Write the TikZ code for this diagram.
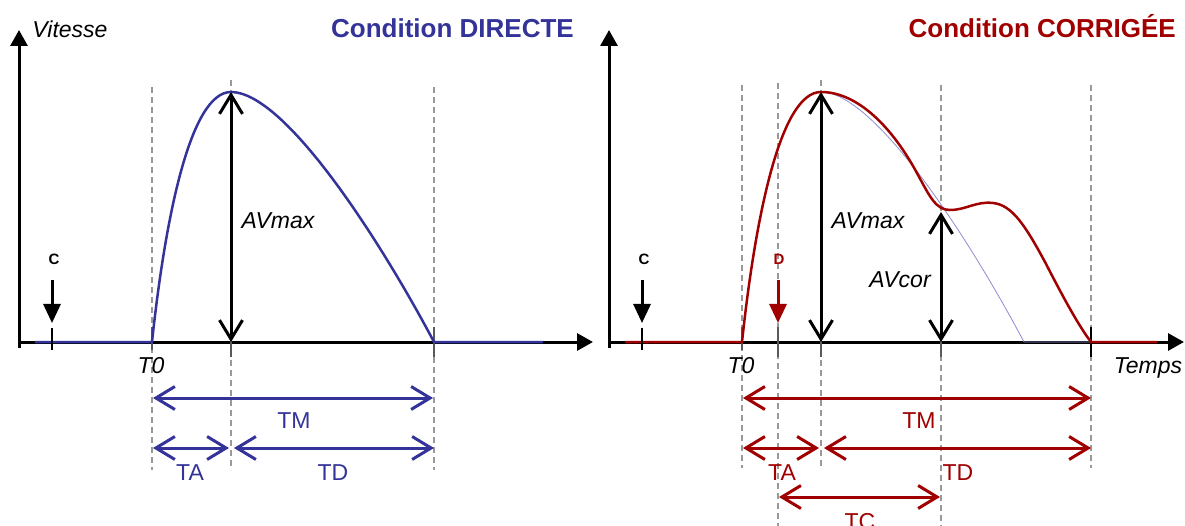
\documentclass[tikz,border=0pt]{standalone}
\usepackage{fontspec}
\setmainfont{Liberation Sans}
\usetikzlibrary{arrows.meta}
\definecolor{dblue}{RGB}{51,51,153}
\definecolor{dred}{RGB}{160,0,0}
\definecolor{thinblue}{RGB}{140,140,210}
\begin{document}
\begin{tikzpicture}[x=1pt,y=-1pt,
  axis/.style={line width=3pt,-{Triangle[length=16pt,width=17pt]}},
  guide/.style={black!40,line width=1.1pt,dash pattern=on 6pt off 4pt},
  tickmark/.style={black!65,line width=2.4pt},
  ctick/.style={black,line width=2.4pt},
  dbl/.style={line width=3pt,{Straight Barb[length=19pt,width=23pt]}-{Straight Barb[length=19pt,width=23pt]}},
  marker/.style={line width=3pt,-{Triangle[length=19pt,width=17pt]}},
  curve/.style={line width=2.5pt},
  lab/.style={inner sep=0pt,anchor=base,font=\fontsize{23}{27}\selectfont\itshape},
  dur/.style={inner sep=0pt,anchor=base,font=\fontsize{23}{27}\selectfont},
  mk/.style={inner sep=0pt,anchor=base,font=\fontsize{15}{18}\selectfont\bfseries},
  ttl/.style={inner sep=0pt,anchor=base east,font=\fontsize{26}{30}\selectfont\bfseries}
]
\useasboundingbox (0,0) rectangle (1185,526);

% ================= LEFT PANEL =================
% guides
\coordinate (LgA1) at (152,87);  \coordinate (LgA2) at (152,470);
\coordinate (LgB1) at (231,80);  \coordinate (LgB2) at (231,470);
\coordinate (LgC1) at (434,87);  \coordinate (LgC2) at (434,470);
\draw[guide] (LgA1) -- (LgA2);
\draw[guide] (LgB1) -- (LgB2);
\draw[guide] (LgC1) -- (LgC2);
% axes
\coordinate (Lo) at (19,348); \coordinate (Ly) at (19,30);
\coordinate (Lx0) at (19,342); \coordinate (Lx) at (593,342);
\draw[axis] (Lo) -- (Ly);
\draw[axis] (Lx0) -- (Lx);
% ticks
\coordinate (LtA1) at (152,327); \coordinate (LtA2) at (152,350);
\coordinate (LtB1) at (231,330); \coordinate (LtB2) at (231,357);
\coordinate (LtC1) at (434,327); \coordinate (LtC2) at (434,357);
\draw[tickmark] (LtA1) -- (LtA2);
\draw[tickmark] (LtB1) -- (LtB2);
\draw[tickmark] (LtC1) -- (LtC2);
% curve
\coordinate (Lb0) at (35,342); \coordinate (LT0) at (152,342);
\coordinate (LP) at (231,92);  \coordinate (LE) at (434,342);
\coordinate (Lb1) at (543,342); \coordinate (LPb) at (231,342);
\draw[dblue,curve] (Lb0) -- (LT0) .. controls (165,220) and (190,92) .. (LP)
   .. controls (285,92) and (380,240) .. (LE) -- (Lb1);
% C marker
\node[mk] (LC) at (54,265) {C};
\coordinate (LCa1) at (52,280); \coordinate (LCa2) at (52,323);
\draw[marker] (LCa1) -- (LCa2);
\coordinate (LCt1) at (52,328); \coordinate (LCt2) at (52,350);
\draw[ctick] (LCt1) -- (LCt2);
% AVmax
\draw[dbl] (LPb) -- (LP);
\node[lab] (LAV) at (278,229) {AVmax};
% labels
\node[lab] (LVit) at (70,38) {Vitesse};
\node[lab] (LT0l) at (151,373) {T0};
\node[ttl,text=dblue] (Lttl) at (574,38) {Condition DIRECTE};
% durations
\coordinate (LM1) at (153,398); \coordinate (LM2) at (433,398);
\coordinate (LA1) at (153,448); \coordinate (LA2) at (229,448);
\coordinate (LD1) at (234,448); \coordinate (LD2) at (434,448);
\draw[dbl,dblue] (LM1) -- (LM2);
\draw[dbl,dblue] (LA1) -- (LA2);
\draw[dbl,dblue] (LD1) -- (LD2);
\node[dur,text=dblue] (LTM) at (294,428) {TM};
\node[dur,text=dblue] (LTA) at (190,480) {TA};
\node[dur,text=dblue] (LTD) at (333,480) {TD};

% ================= RIGHT PANEL =================
\coordinate (RgA1) at (742,85);  \coordinate (RgA2) at (742,468);
\coordinate (RgB1) at (778,83);  \coordinate (RgB2) at (778,530);
\coordinate (RgC1) at (821,80);  \coordinate (RgC2) at (821,468);
\coordinate (RgD1) at (941,85);  \coordinate (RgD2) at (941,530);
\coordinate (RgE1) at (1091,85); \coordinate (RgE2) at (1091,468);
\draw[guide] (RgA1) -- (RgA2);
\draw[guide] (RgB1) -- (RgB2);
\draw[guide] (RgC1) -- (RgC2);
\draw[guide] (RgD1) -- (RgD2);
\draw[guide] (RgE1) -- (RgE2);
% axes
\coordinate (Ro) at (609,348); \coordinate (Ry) at (609,30);
\coordinate (Rx0) at (609,342); \coordinate (Rx) at (1184,342);
\draw[axis] (Ro) -- (Ry);
\draw[axis] (Rx0) -- (Rx);
% ticks
\coordinate (RtA1) at (742,327); \coordinate (RtA2) at (742,350);
\coordinate (RtB1) at (778,327); \coordinate (RtB2) at (778,357);
\coordinate (RtC1) at (821,330); \coordinate (RtC2) at (821,357);
\coordinate (RtD1) at (941,330); \coordinate (RtD2) at (941,357);
\coordinate (RtE1) at (1091,327); \coordinate (RtE2) at (1091,357);
\draw[tickmark] (RtA1) -- (RtA2);
\draw[tickmark] (RtB1) -- (RtB2);
\draw[tickmark] (RtC1) -- (RtC2);
\draw[tickmark] (RtD1) -- (RtD2);
\draw[ctick] (RtE1) -- (RtE2);
% original (thin blue) curve
\coordinate (RP) at (821,92); \coordinate (RPb) at (821,342);
\coordinate (RE0) at (1024,342); \coordinate (RE) at (1091,342);
\draw[thinblue,line width=0.8pt] (RP) .. controls (875,92) and (970,240) .. (RE0) -- (RE);
% corrected (red) curve
\coordinate (Rb0) at (625,342); \coordinate (RT0) at (742,342);
\coordinate (Rb1) at (1157,342);
\coordinate (Rk1) at (918,175); \coordinate (Rk2) at (950,210);
\coordinate (Rk3) at (993,203); \coordinate (Rk4) at (1045,262);
\draw[dred,curve] (Rb0) -- (RT0) .. controls (755,220) and (780,92) .. (RP)
   .. controls (858,92) and (893,128) .. (Rk1)
   .. controls (930,197) and (936,210) .. (Rk2)
   .. controls (966,210) and (976,201) .. (Rk3)
   .. controls (1012,205) and (1025,225) .. (Rk4)
   .. controls (1062,295) and (1078,325) .. (RE) -- (Rb1);
% C marker
\node[mk] (RC) at (644,265) {C};
\coordinate (RCa1) at (642,280); \coordinate (RCa2) at (642,323);
\draw[marker] (RCa1) -- (RCa2);
\coordinate (RCt1) at (642,328); \coordinate (RCt2) at (642,350);
\draw[ctick] (RCt1) -- (RCt2);
% D marker
\node[mk,text=dred] (RD) at (779,265) {D};
\coordinate (RDa1) at (778,280); \coordinate (RDa2) at (778,323);
\draw[marker,dred] (RDa1) -- (RDa2);
% AVmax, AVcor
\coordinate (RCor) at (941,212); \coordinate (RCorb) at (941,342);
\draw[dbl] (RPb) -- (RP);
\draw[dbl] (RCorb) -- (RCor);
\node[lab] (RAV) at (868,229) {AVmax};
\node[lab] (RAVc) at (900,288) {AVcor};
% labels
\node[lab] (RT0l) at (741,373) {T0};
\node[lab] (RTemps) at (1148,373) {Temps};
\node[ttl,text=dred] (Rttl) at (1176,38) {Condition CORRIGÉE};
% durations
\coordinate (RM1) at (743,398); \coordinate (RM2) at (1091,398);
\coordinate (RA1) at (743,448); \coordinate (RA2) at (819,448);
\coordinate (RD1) at (824,448); \coordinate (RD2) at (1091,448);
\coordinate (RC1) at (779,497); \coordinate (RC2) at (940,497);
\draw[dbl,dred] (RM1) -- (RM2);
\draw[dbl,dred] (RA1) -- (RA2);
\draw[dbl,dred] (RD1) -- (RD2);
\draw[dbl,dred] (RC1) -- (RC2);
\node[dur,text=dred] (RTM) at (919,428) {TM};
\node[dur,text=dred] (RTA) at (782,480) {TA};
\node[dur,text=dred] (RTD) at (958,480) {TD};
\node[dur,text=dred] (RTC) at (860,529) {TC};
\end{tikzpicture}
\end{document}
